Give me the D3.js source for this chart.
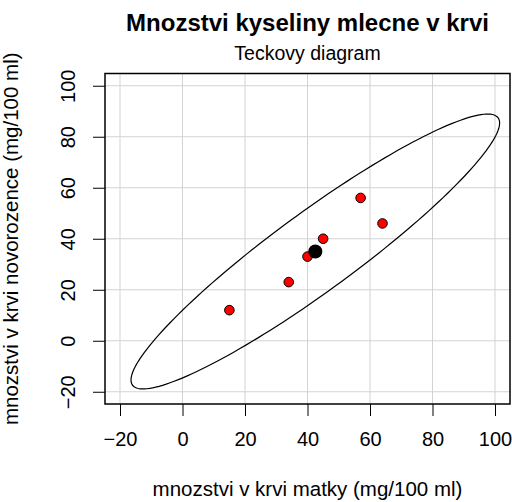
<!DOCTYPE html>
<html>
<head>
<meta charset="utf-8">
<script src="https://cdn.jsdelivr.net/npm/d3@7"></script>
<style>
    body { margin: 0; background: #fff; }
    text { font-family: "Liberation Sans", Arial, sans-serif; fill: #000; }
</style>
</head>
<body>
<div id="chart-area"></div>
<script>

// matka / novorozenec (mg/100 ml)
const motherValues = [15, 34, 40, 45, 57, 64];
const newbornValues = [12, 23, 33, 40, 56, 46];
const xTicks = [-20, 0, 20, 40, 60, 80, 100];
const yTicks = [-20, 0, 20, 40, 60, 80, 100];
// size of the ellipse in sample standard deviations
const ellipseRadius = 3.39;

class ScatterPlot {

    constructor(_parentElement, _x, _y) {
        this.parentElement = _parentElement;
        this.xData = _x;
        this.yData = _y;

        this.initVis();
    }

    initVis() {
        let vis = this;

        vis.margin = { top: 73.5, right: 2, bottom: 98, left: 105 };
        vis.width = 512 - vis.margin.left - vis.margin.right;
        vis.height = 502 - vis.margin.top - vis.margin.bottom;

        vis.svg = d3.select("#" + vis.parentElement).append("svg")
            .attr("width", 512)
            .attr("height", 502)
            .append("g")
            .attr("transform", "translate(" + vis.margin.left + "," + vis.margin.top + ")");

        // R style axis limits: -20..100 padded by 4%
        vis.x = d3.scaleLinear()
            .domain([-24.8, 104.8])
            .range([0, vis.width]);

        vis.y = d3.scaleLinear()
            .domain([-24.8, 104.8])
            .range([vis.height, 0]);

        // grid
        vis.svg.append("g").selectAll("line.vgrid")
            .data(xTicks)
            .enter().append("line")
            .attr("x1", d => vis.x(d)).attr("x2", d => vis.x(d))
            .attr("y1", 0).attr("y2", vis.height)
            .attr("stroke", "#d3d3d3").attr("stroke-width", 1);

        vis.svg.append("g").selectAll("line.hgrid")
            .data(yTicks)
            .enter().append("line")
            .attr("y1", d => vis.y(d)).attr("y2", d => vis.y(d))
            .attr("x1", 0).attr("x2", vis.width)
            .attr("stroke", "#d3d3d3").attr("stroke-width", 1);

        // axes
        vis.xAxis = d3.axisBottom(vis.x)
            .tickValues(xTicks)
            .tickSize(12)
            .tickPadding(16)
            .tickFormat(d => d < 0 ? "\u2212" + Math.abs(d) : d);

        vis.yAxis = d3.axisLeft(vis.y)
            .tickValues(yTicks)
            .tickSize(12)
            .tickFormat(d => d < 0 ? "\u2212" + Math.abs(d) : d);

        vis.svg.append("g")
            .attr("class", "x-axis axis")
            .attr("transform", "translate(0," + vis.height + ")");

        vis.svg.append("g")
            .attr("class", "y-axis axis");

        vis.ellipsePath = vis.svg.append("path")
            .attr("fill", "none")
            .attr("stroke", "#000")
            .attr("stroke-width", 1.2);

        vis.pointGroup = vis.svg.append("g");

        // box round the plot
        vis.svg.append("rect")
            .attr("width", vis.width)
            .attr("height", vis.height)
            .attr("fill", "none")
            .attr("stroke", "#000")
            .attr("stroke-width", 1.5);

        // titles
        vis.svg.append("text")
            .attr("x", vis.width / 2)
            .attr("y", 31 - vis.margin.top)
            .attr("text-anchor", "middle")
            .attr("font-size", 24)
            .attr("font-weight", "bold")
            .text("Mnozstvi kyseliny mlecne v krvi");

        vis.svg.append("text")
            .attr("x", vis.width / 2)
            .attr("y", 60 - vis.margin.top)
            .attr("text-anchor", "middle")
            .attr("font-size", 19.5)
            .text("Teckovy diagram");

        vis.svg.append("text")
            .attr("x", vis.width / 2)
            .attr("y", 496 - vis.margin.top)
            .attr("text-anchor", "middle")
            .attr("font-size", 20.5)
            .text("mnozstvi v krvi matky (mg/100 ml)");

        vis.svg.append("text")
            .attr("transform", "translate(" + (18 - vis.margin.left) + "," + (vis.height / 2) + ") rotate(-90)")
            .attr("text-anchor", "middle")
            .attr("font-size", 20.5)
            .text("mnozstvi v krvi novorozence (mg/100 ml)");

        vis.wrangleData();
    }

    wrangleData() {
        let vis = this;

        vis.displayData = vis.xData.map((d, i) => ({ x: d, y: vis.yData[i] }));

        let n = vis.displayData.length;
        vis.meanX = d3.mean(vis.xData);
        vis.meanY = d3.mean(vis.yData);

        let sxx = d3.sum(vis.displayData, d => (d.x - vis.meanX) ** 2) / (n - 1);
        let syy = d3.sum(vis.displayData, d => (d.y - vis.meanY) ** 2) / (n - 1);
        let sxy = d3.sum(vis.displayData, d => (d.x - vis.meanX) * (d.y - vis.meanY)) / (n - 1);
        let rho = sxy / Math.sqrt(sxx * syy);

        // ellipse outline from the covariance (cholesky form)
        vis.ellipseData = d3.range(0, 361, 2).map(function (deg) {
            let t = deg * Math.PI / 180;
            return {
                x: vis.meanX + ellipseRadius * Math.sqrt(sxx) * Math.cos(t),
                y: vis.meanY + ellipseRadius * Math.sqrt(syy) * (rho * Math.cos(t) + Math.sqrt(1 - rho * rho) * Math.sin(t))
            };
        });

        vis.updateVis();
    }

    updateVis() {
        let vis = this;

        vis.ellipsePath
            .datum(vis.ellipseData)
            .attr("d", d3.line()
                .x(d => vis.x(d.x))
                .y(d => vis.y(d.y))
                .curve(d3.curveLinearClosed));

        vis.pointGroup.selectAll(".point")
            .data(vis.displayData)
            .enter().append("circle")
            .attr("class", "point")
            .attr("cx", d => vis.x(d.x))
            .attr("cy", d => vis.y(d.y))
            .attr("r", 4.8)
            .attr("fill", "#ff0000")
            .attr("stroke", "#000")
            .attr("stroke-width", 1);

        vis.pointGroup.append("circle")
            .attr("cx", vis.x(vis.meanX))
            .attr("cy", vis.y(vis.meanY))
            .attr("r", 7)
            .attr("fill", "#000");

        vis.svg.select(".x-axis").call(vis.xAxis);
        vis.svg.select(".y-axis").call(vis.yAxis);

        vis.svg.selectAll(".axis .domain").remove();
        vis.svg.selectAll(".axis line").attr("stroke", "#000").attr("stroke-width", 1);
        vis.svg.selectAll(".axis text")
            .attr("font-size", 20)
            .attr("font-family", "Liberation Sans, Arial, sans-serif");

        // y tick labels are written along the axis like in R
        vis.svg.selectAll(".y-axis .tick text")
            .attr("x", 0).attr("y", 0).attr("dy", 0)
            .attr("text-anchor", "middle")
            .attr("transform", "translate(-30,0) rotate(-90)");
    }
}

new ScatterPlot("chart-area", motherValues, newbornValues);

</script>
</body>
</html>
